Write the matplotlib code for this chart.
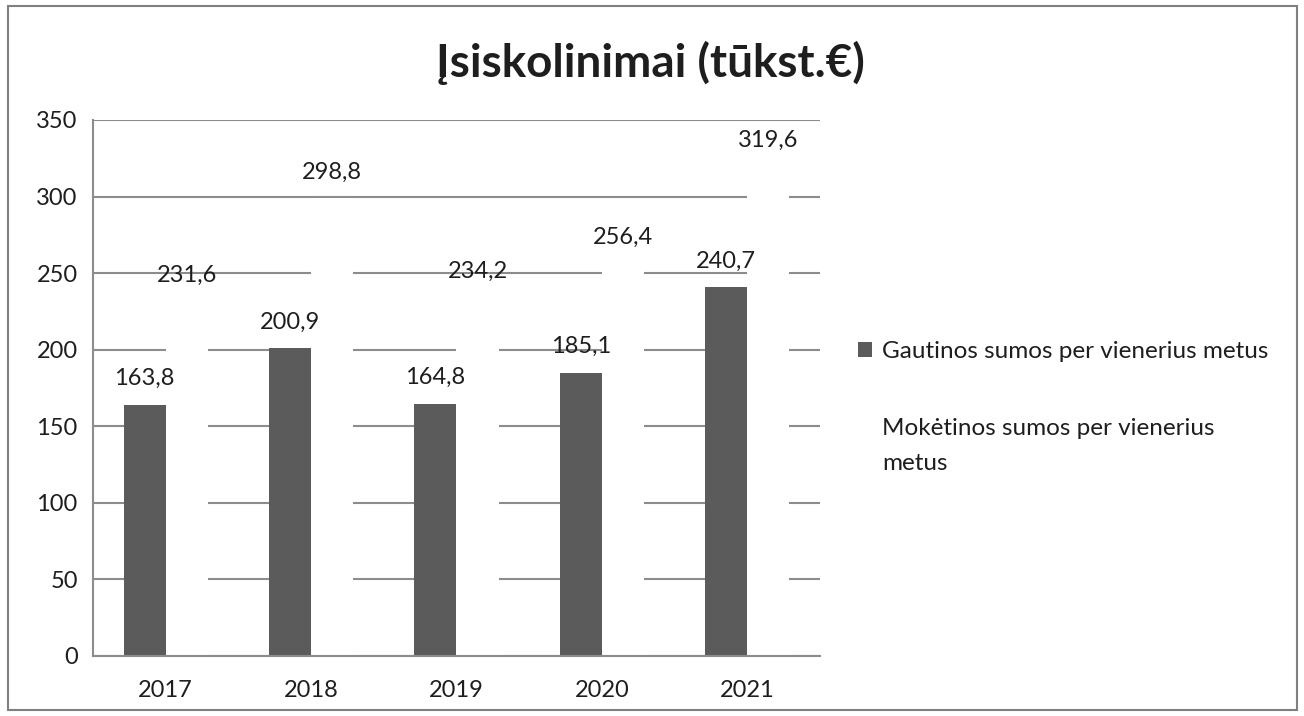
import matplotlib.pyplot as plt
import numpy as np
from matplotlib.patches import Rectangle, Patch

plt.rcParams['font.family'] = ['Lato', 'DejaVu Sans']

years = ['2017', '2018', '2019', '2020', '2021']
gautinos = [163.8, 200.9, 164.8, 185.1, 240.7]
moketinos = [231.6, 298.8, 234.2, 256.4, 319.6]
yticks = [0, 50, 100, 150, 200, 250, 300, 350]

W, H = 1304, 716
fig = plt.figure(figsize=(W / 100, H / 100), dpi=100)
ax = fig.add_axes([93 / W, 60 / H, 727 / W, 536 / H])

x = np.arange(len(years))
bw = 0.29
gray = '#5b5b5b'
gridc = '#8c8c8c'
txtc = '#1e1e1e'

ax.bar(x - bw / 2, gautinos, bw, color=gray, zorder=2)
ax.bar(x + bw / 2, moketinos, bw, color='white', zorder=2)

def lab(v):
    return ('%.1f' % v).replace('.', ',')

for i in range(len(years)):
    ax.annotate(lab(gautinos[i]), (x[i] - bw / 2, gautinos[i]), xytext=(0, 19),
                textcoords='offset points', ha='center', va='center', fontsize=17, color=txtc, zorder=4)
    ax.annotate(lab(moketinos[i]), (x[i] + bw / 2, moketinos[i]), xytext=(0, 19),
                textcoords='offset points', ha='center', va='center', fontsize=17, color=txtc, zorder=4)

ax.set_xlim(-0.5, len(years) - 0.5)
ax.set_ylim(0, 350)
ax.set_yticks(yticks)
ax.set_xticks(x)
ax.set_xticklabels(years)
ax.yaxis.grid(True, color=gridc, lw=1.5)
ax.set_axisbelow(True)
ax.tick_params(length=0, labelsize=17, colors=txtc)
ax.tick_params(axis='x', pad=17)
ax.tick_params(axis='y', pad=11)
for s in ['top', 'right']:
    ax.spines[s].set_visible(False)
for s in ['left', 'bottom']:
    ax.spines[s].set_color(gridc)
    ax.spines[s].set_linewidth(1.5)

fig.text(650 / W, 1 - 63 / H, 'Įsiskolinimai (tūkst.€)', ha='center', va='center',
         fontsize=33, fontweight='bold', color=txtc)

handles = [Patch(facecolor=gray, edgecolor='none'), Patch(facecolor='white', edgecolor='none')]
leg = fig.legend(handles, ['Gautinos sumos per vienerius metus', 'Mokėtinos sumos per vienerius\nmetus'],
                 loc='upper left', bbox_to_anchor=(836 / W, 1 - 319 / H), frameon=False, fontsize=17.5,
                 handlelength=0.6, handleheight=0.6, handletextpad=0.4, labelspacing=2.3)
for t in leg.get_texts():
    t.set_color(txtc)
leg.get_texts()[1].set_linespacing(1.85)

fig.patches.append(Rectangle((8 / W, 6 / H), 1289 / W, 704 / H, transform=fig.transFigure,
                             fill=False, edgecolor='#808080', lw=1.5))

fig.savefig('out.png', dpi=100, facecolor='white')
